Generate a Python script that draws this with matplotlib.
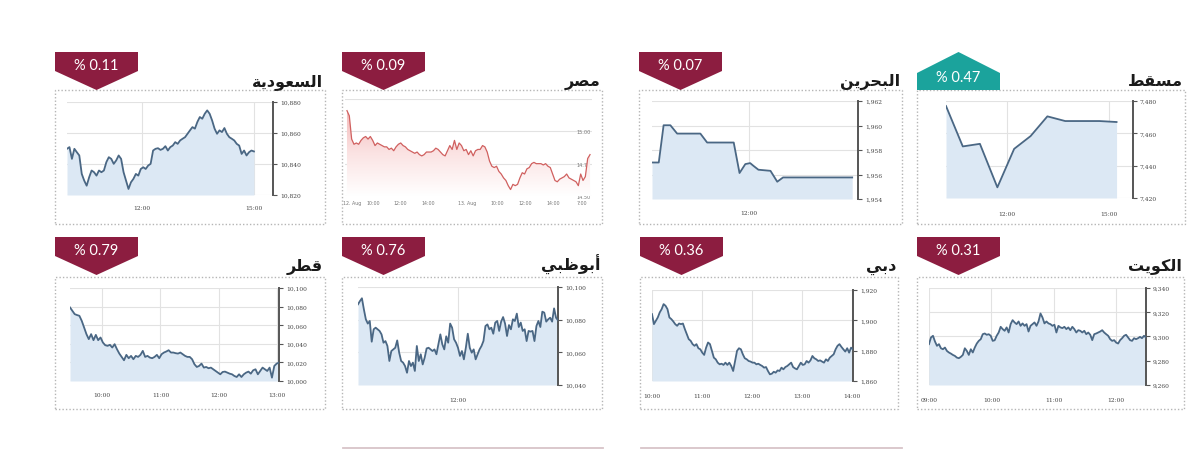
import numpy as np
import matplotlib
matplotlib.use("Agg")
import matplotlib.pyplot as plt
from matplotlib.patches import Rectangle, Polygon
from matplotlib.colors import LinearSegmentedColormap

# ---------------- data ----------------
titles = ["السعودية", "مصر", "البحرين", "مسقط", "قطر", "أبوظبي", "دبي", "الكويت"]
badges = ["% 0.11", "% 0.09", "% 0.07", "% 0.47", "% 0.79", "% 0.76", "% 0.36", "% 0.31"]
badge_up = [False, False, False, True, False, False, False, False]

saudi_values = [10849.8, 10850.9, 10843.3, 10849.8, 10847.6, 10845.5, 10833.6, 10829.3, 10826.0, 10831.4,
                10835.8, 10834.7, 10832.5, 10835.8, 10834.7, 10835.8, 10841.2, 10844.4, 10843.3, 10840.1,
                10842.3, 10845.5, 10843.3, 10834.7, 10829.3, 10823.9, 10828.2, 10830.4, 10833.6, 10832.5,
                10836.8, 10837.9, 10836.8, 10839.0, 10840.1, 10848.7, 10849.8, 10850.2, 10849.1, 10849.8,
                10851.5, 10848.7, 10850.9, 10851.9, 10854.1, 10853.0, 10855.2, 10856.3, 10857.3, 10859.5,
                10861.7, 10863.8, 10862.8, 10867.1, 10870.3, 10869.2, 10872.4, 10874.6, 10872.4, 10868.1,
                10862.8, 10859.5, 10861.7, 10860.6, 10863.2, 10859.5, 10857.3, 10856.3, 10855.2, 10853.0,
                10851.9, 10846.5, 10848.7, 10845.5, 10847.6, 10848.7, 10848.1]
saudi_time = (10.0, 15.0)
saudi_yticks = [10820, 10840, 10860, 10880]
saudi_xticks = [12, 15]
saudi_xlabels = ["12:00", "15:00"]

egypt_values = [15.16, 15.12, 14.94, 14.90, 14.91, 14.90, 14.93, 14.95, 14.96, 14.94, 14.96, 14.93, 14.89,
                14.91, 14.90, 14.89, 14.88, 14.88, 14.86, 14.87, 14.85, 14.88, 14.90, 14.91, 14.89, 14.88,
                14.86, 14.85, 14.84, 14.83, 14.84, 14.82, 14.81, 14.82, 14.84, 14.84, 14.84, 14.85, 14.87,
                14.86, 14.84, 14.82, 14.81, 14.85, 14.89, 14.86, 14.93, 14.86, 14.91, 14.89, 14.85, 14.86,
                14.82, 14.85, 14.81, 14.85, 14.86, 14.86, 14.89, 14.88, 14.84, 14.77, 14.73, 14.72, 14.73,
                14.69, 14.67, 14.64, 14.62, 14.58, 14.55, 14.59, 14.58, 14.59, 14.64, 14.68, 14.67, 14.71,
                14.72, 14.75, 14.76, 14.75, 14.75, 14.75, 14.74, 14.75, 14.73, 14.72, 14.67, 14.62, 14.61,
                14.63, 14.64, 14.65, 14.67, 14.64, 14.63, 14.62, 14.61, 14.58, 14.67, 14.62, 14.65, 14.79,
                14.82]
egypt_span = (0.008, 0.992)
egypt_yticks = [14.50, 14.75, 15.00, 15.25]
egypt_ylabels = ["14.50", "14.75", "15.00", ""]
egypt_xticks = [0.028, 0.113, 0.223, 0.336, 0.494, 0.615, 0.729, 0.842, 0.960]
egypt_xlabels = ["12. Aug", "10:00", "12:00", "14:00", "13. Aug", "10:00", "12:00", "14:00", "7:00"]

bahrain_times = [10.0, 10.14, 10.24, 10.38, 10.52, 10.66, 11.0, 11.14, 11.69, 11.81, 11.93, 12.03,
                 12.1, 12.2, 12.45, 12.59, 12.71, 14.14]
bahrain_values = [1956.98, 1956.98, 1960.02, 1960.02, 1959.34, 1959.34, 1959.34, 1958.61, 1958.61,
                  1956.12, 1956.85, 1956.93, 1956.70, 1956.39, 1956.30, 1955.41, 1955.76, 1955.76]
bahrain_yticks = [1954, 1956, 1958, 1960, 1962]
bahrain_xticks = [12]
bahrain_xlabels = ["12:00"]

muscat_times = [10.23, 10.72, 11.22, 11.73, 12.22, 12.70, 13.19, 13.71, 14.24, 14.71, 15.21]
muscat_values = [7476.9, 7451.9, 7453.5, 7426.6, 7450.4, 7458.3, 7470.5, 7467.6, 7467.6, 7467.6, 7467.0]
muscat_yticks = [7420, 7440, 7460, 7480]
muscat_xticks = [12, 15]
muscat_xlabels = ["12:00", "15:00"]

qatar_values = [10079.1, 10075.5, 10071.9, 10070.9, 10070.1, 10064.7, 10057.6, 10050.4, 10045.0, 10050.4,
                10043.9, 10049.6, 10043.9, 10046.8, 10041.4, 10038.5, 10037.8, 10038.9, 10036.0, 10039.6,
                10034.2, 10029.5, 10025.9, 10022.3, 10028.1, 10024.5, 10027.0, 10023.4, 10027.0, 10025.9,
                10028.1, 10032.4, 10025.9, 10027.0, 10025.2, 10024.5, 10025.9, 10028.1, 10024.5, 10028.8,
                10030.6, 10031.7, 10033.1, 10030.6, 10030.6, 10029.9, 10029.5, 10030.6, 10028.8, 10027.0,
                10025.9, 10025.9, 10023.4, 10018.0, 10015.1, 10016.2, 10018.7, 10014.4, 10015.1, 10013.7,
                10014.4, 10012.6, 10010.8, 10009.0, 10007.2, 10009.7, 10010.1, 10009.0, 10007.9, 10007.2,
                10005.4, 10004.3, 10007.2, 10004.3, 10007.2, 10009.0, 10010.1, 10007.9, 10011.5, 10012.6,
                10007.2, 10010.8, 10014.4, 10012.6, 10010.8, 10014.4, 10003.6, 10016.2, 10018.7, 10019.8]
qatar_time = (9.45, 13.03)
qatar_yticks = [10000, 10020, 10040, 10060, 10080, 10100]
qatar_xticks = [10, 11, 12, 13]
qatar_xlabels = ["10:00", "11:00", "12:00", "13:00"]

abudhabi_values = [10089.4, 10091.4, 10093.1, 10086.3, 10080.2, 10077.6, 10079.2, 10066.5, 10074.1, 10075.1,
                   10074.1, 10073.1, 10071.0, 10065.9, 10066.9, 10063.9, 10054.7, 10060.8, 10061.8, 10062.8,
                   10067.3, 10059.8, 10054.7, 10053.7, 10051.6, 10047.5, 10054.7, 10051.6, 10053.7, 10048.6,
                   10063.9, 10054.7, 10058.8, 10052.6, 10056.7, 10062.4, 10062.8, 10061.8, 10060.8, 10061.8,
                   10058.8, 10064.9, 10071.0, 10064.9, 10061.8, 10069.8, 10065.9, 10077.6, 10075.1, 10068.0,
                   10065.9, 10062.8, 10057.8, 10060.8, 10055.7, 10062.8, 10071.4, 10062.8, 10059.8, 10061.8,
                   10055.7, 10058.8, 10061.8, 10063.9, 10067.0, 10076.1, 10077.1, 10074.1, 10075.1, 10071.4,
                   10078.2, 10079.2, 10073.1, 10078.8, 10081.6, 10077.6, 10070.0, 10076.7, 10074.1, 10080.2,
                   10079.2, 10083.7, 10075.5, 10078.2, 10073.1, 10074.1, 10066.9, 10073.1, 10072.7, 10073.1,
                   10066.9, 10076.1, 10079.2, 10075.5, 10084.9, 10084.3, 10078.8, 10080.2, 10081.2, 10078.8,
                   10086.9, 10081.2, 10079.6]
abudhabi_time = (10.0, 14.02)
abudhabi_yticks = [10040, 10060, 10080, 10100]
abudhabi_xticks = [12]
abudhabi_xlabels = ["12:00"]

dubai_values = [1904.1, 1897.5, 1899.7, 1901.9, 1905.2, 1907.4, 1910.7, 1909.6, 1907.4, 1901.9, 1900.8, 1899.3,
                1897.5, 1896.4, 1897.9, 1897.5, 1897.9, 1894.2, 1890.9, 1887.6, 1886.5, 1884.3, 1883.2, 1884.3,
                1881.6, 1880.9, 1878.7, 1877.2, 1882.0, 1885.4, 1884.3, 1879.9, 1875.4, 1874.3, 1872.1, 1871.0,
                1871.4, 1870.6, 1872.1, 1870.6, 1872.1, 1869.9, 1866.6, 1873.2, 1879.9, 1881.6, 1880.9, 1877.6,
                1875.0, 1874.3, 1873.2, 1872.8, 1872.1, 1872.1, 1871.0, 1871.4, 1870.6, 1869.9, 1868.8, 1869.2,
                1866.6, 1864.4, 1864.8, 1866.1, 1865.5, 1867.0, 1866.6, 1868.8, 1867.7, 1869.2, 1869.9, 1871.0,
                1872.1, 1869.2, 1868.3, 1867.7, 1869.9, 1872.1, 1870.6, 1871.0, 1873.2, 1872.1, 1873.6, 1876.5,
                1875.0, 1874.3, 1873.2, 1873.6, 1872.8, 1872.1, 1874.3, 1873.2, 1875.4, 1876.5, 1877.6, 1880.9,
                1883.2, 1884.3, 1882.5, 1880.9, 1879.4, 1881.6, 1878.7, 1882.0, 1880.9]
dubai_time = (10.0, 14.02)
dubai_yticks = [1860, 1880, 1900, 1920]
dubai_xticks = [10, 11, 12, 13, 14]
dubai_xlabels = ["10:00", "11:00", "12:00", "13:00", "14:00"]

kuwait_values = [9293.7, 9299.2, 9300.6, 9295.9, 9292.3, 9293.7, 9290.3, 9289.5, 9290.9, 9288.1, 9286.8, 9285.9,
                 9284.8, 9284.0, 9282.6, 9282.1, 9283.2, 9284.8, 9290.3, 9288.1, 9284.8, 9289.5, 9286.8, 9290.9,
                 9294.2, 9296.4, 9297.8, 9301.9, 9302.5, 9301.4, 9301.9, 9300.6, 9296.4, 9296.9, 9300.6, 9303.3,
                 9308.0, 9306.1, 9304.7, 9307.5, 9303.3, 9310.2, 9313.5, 9311.6, 9310.2, 9312.4, 9308.8, 9310.8,
                 9308.8, 9310.2, 9304.1, 9308.8, 9310.2, 9311.6, 9308.8, 9312.4, 9319.0, 9315.7, 9310.8, 9312.4,
                 9310.8, 9310.2, 9308.8, 9309.7, 9303.3, 9308.8, 9307.5, 9306.9, 9308.0, 9306.1, 9307.5, 9305.2,
                 9308.0, 9306.1, 9303.3, 9305.2, 9304.7, 9303.3, 9304.7, 9301.9, 9303.3, 9301.4, 9297.0, 9301.9,
                 9302.5, 9303.3, 9304.1, 9305.2, 9303.3, 9301.9, 9300.6, 9297.8, 9296.4, 9297.0, 9295.0, 9294.2,
                 9297.0, 9298.6, 9300.6, 9301.4, 9299.2, 9297.0, 9296.4, 9298.6, 9297.8, 9298.6, 9299.7, 9298.6,
                 9300.6, 9299.2]
kuwait_time = (9.0, 12.48)
kuwait_yticks = [9260, 9280, 9300, 9320, 9340]
kuwait_xticks = [9, 10, 11, 12]
kuwait_xlabels = ["09:00", "10:00", "11:00", "12:00"]

# ---------------- helpers ----------------
W, H = 1200, 477
MAROON = "#8c1d40"
TEAL = "#1ba39c"
LINE = "#4a6784"
FILL = "#dce8f4"
GRID = "#e2e2e2"
SPINE = "#555555"

FORMS = {
    "ا": ("\uFE8D", "\uFE8E", None, None), "أ": ("\uFE83", "\uFE84", None, None),
    "ب": ("\uFE8F", "\uFE90", "\uFE91", "\uFE92"), "ة": ("\uFE93", "\uFE94", None, None),
    "ت": ("\uFE95", "\uFE96", "\uFE97", "\uFE98"), "ح": ("\uFEA1", "\uFEA2", "\uFEA3", "\uFEA4"),
    "د": ("\uFEA9", "\uFEAA", None, None), "ر": ("\uFEAD", "\uFEAE", None, None),
    "س": ("\uFEB1", "\uFEB2", "\uFEB3", "\uFEB4"), "ص": ("\uFEB9", "\uFEBA", "\uFEBB", "\uFEBC"),
    "ط": ("\uFEC1", "\uFEC2", "\uFEC3", "\uFEC4"), "ظ": ("\uFEC5", "\uFEC6", "\uFEC7", "\uFEC8"),
    "ع": ("\uFEC9", "\uFECA", "\uFECB", "\uFECC"), "ق": ("\uFED5", "\uFED6", "\uFED7", "\uFED8"),
    "ك": ("\uFED9", "\uFEDA", "\uFEDB", "\uFEDC"), "ل": ("\uFEDD", "\uFEDE", "\uFEDF", "\uFEE0"),
    "م": ("\uFEE1", "\uFEE2", "\uFEE3", "\uFEE4"), "ن": ("\uFEE5", "\uFEE6", "\uFEE7", "\uFEE8"),
    "و": ("\uFEED", "\uFEEE", None, None), "ي": ("\uFEF1", "\uFEF2", "\uFEF3", "\uFEF4"),
}


def shape_arabic(s):
    out = []
    for i, c in enumerate(s):
        f = FORMS[c]
        jp = i > 0 and FORMS[s[i - 1]][2] is not None
        jn = i + 1 < len(s) and f[2] is not None
        if jp and jn:
            g = f[3]
        elif jp:
            g = f[1]
        elif jn:
            g = f[2]
        else:
            g = f[0]
        out.append(g)
    return "".join(reversed(out))


fig = plt.figure(figsize=(12, 4.77), dpi=100)
fig.patch.set_facecolor("white")


def fx(x):
    return x / W


def fy(y):
    return 1 - y / H


def add_ax(l, r, t, b):
    return fig.add_axes([fx(l), fy(b), (r - l) / W, (b - t) / H])


def draw_frame(box, title, badge, up, row_top):
    l, r, t, b = box
    fig.patches.append(Rectangle((fx(l), fy(b)), (r - l) / W, (b - t) / H, transform=fig.transFigure,
                                 fill=False, edgecolor="#b5b5b5", lw=1.0, linestyle=(0, (1, 1.5))))
    bl, br = l, l + 83
    mid = (bl + br) / 2
    if up:
        pts = [(bl, row_top + 38), (bl, row_top + 21), (mid, row_top), (br, row_top + 21), (br, row_top + 38)]
        col = TEAL
        ty = row_top + 25
    else:
        pts = [(bl, row_top), (br, row_top), (br, row_top + 19), (mid, row_top + 38), (bl, row_top + 19)]
        col = MAROON
        ty = row_top + 13
    fig.patches.append(Polygon([(fx(x), fy(y)) for x, y in pts], closed=True, transform=fig.transFigure,
                               facecolor=col, edgecolor="none"))
    fig.text(fx(mid), fy(ty), badge, color="white", fontsize=10.5, family="Lato",
             ha="center", va="center")
    fig.text(fx(r - 2), fy(row_top + 33), shape_arabic(title), fontsize=11.5, fontweight="bold",
             family="DejaVu Sans", color="#1a1a1a", ha="right", va="baseline")


def style_blue(ax, yticks, xticks, xlabels, xlim, pad=7):
    ax.set_facecolor("none")
    for s in ["left", "top", "bottom"]:
        ax.spines[s].set_visible(False)
    ax.spines["right"].set_color(SPINE)
    ax.spines["right"].set_linewidth(1.4)
    ax.yaxis.tick_right()
    ax.set_yticks(yticks)
    ax.set_yticklabels([f"{v:,}" for v in yticks])
    ax.set_ylim(yticks[0], yticks[-1])
    ax.set_xlim(*xlim)
    ax.set_xticks(xticks)
    ax.set_xticklabels(xlabels)
    ax.tick_params(axis="y", length=3, width=0.8, color=SPINE, pad=2, labelsize=4.3, labelcolor="#444")
    ax.tick_params(axis="x", length=0, pad=pad, labelsize=4.3, labelcolor="#444")
    for lab in ax.get_xticklabels() + ax.get_yticklabels():
        lab.set_family("DejaVu Serif")
    ax.grid(True, color=GRID, lw=0.8)
    ax.set_axisbelow(True)


def blue_plot(ax, x, y, ymin):
    ax.fill_between(x, y, ymin, color=FILL, lw=0, zorder=2)
    ax.plot(x, y, color=LINE, lw=1.3, zorder=3)


# ---------- Saudi ----------
draw_frame((55, 325, 91, 225), titles[0], badges[0], badge_up[0], 53)
ax = add_ax(67, 273, 103, 196)
x = np.linspace(*saudi_time, len(saudi_values))
style_blue(ax, saudi_yticks, saudi_xticks, saudi_xlabels, (saudi_time[0], 15.51))
blue_plot(ax, x, saudi_values, saudi_yticks[0])

# ---------- Egypt ----------
draw_frame((342, 602, 91, 225), titles[1], badges[1], badge_up[1], 53)
ax = add_ax(345, 592, 100, 197)
ax.set_facecolor("none")
for s in ax.spines.values():
    s.set_visible(False)
x = np.linspace(*egypt_span, len(egypt_values))
ax.set_xlim(0, 1)
ax.set_ylim(egypt_yticks[0], egypt_yticks[-1])
poly = ax.fill_between(x, egypt_values, egypt_yticks[0], color="none", lw=0)
grad = np.linspace(0, 1, 256).reshape(-1, 1)
cm = LinearSegmentedColormap.from_list("pk", ["#ffffff", "#fbe3e3", "#f4b9b9"])
im = ax.imshow(grad, extent=[0, 1, egypt_yticks[0], max(egypt_values)], origin="lower",
               aspect="auto", cmap=cm, zorder=2)
im.set_clip_path(poly.get_paths()[0], transform=ax.transData)
ax.plot(x, egypt_values, color="#d0605f", lw=0.9, zorder=3)
ax.set_yticks(egypt_yticks)
ax.set_yticklabels(egypt_ylabels)
ax.yaxis.tick_right()
ax.tick_params(axis="y", length=0, pad=-11, labelsize=3.6, labelcolor="#777")
ax.set_xticks(egypt_xticks)
ax.set_xticklabels(egypt_xlabels)
ax.tick_params(axis="x", length=0, pad=3, labelsize=3.4, labelcolor="#777")
ax.grid(True, axis="y", color=GRID, lw=0.8)
ax.set_axisbelow(True)

# ---------- Bahrain ----------
draw_frame((639, 902, 91, 225), titles[2], badges[2], badge_up[2], 53)
ax = add_ax(652, 858, 102, 200)
style_blue(ax, bahrain_yticks, bahrain_xticks, bahrain_xlabels, (10.0, 14.26), pad=8)
blue_plot(ax, bahrain_times, bahrain_values, bahrain_yticks[0])

# ---------- Muscat ----------
draw_frame((917, 1185, 91, 225), titles[3], badges[3], badge_up[3], 53)
ax = add_ax(946, 1133, 102, 199)
style_blue(ax, muscat_yticks, muscat_xticks, muscat_xlabels, (10.23, 15.69), pad=9)
blue_plot(ax, muscat_times, muscat_values, muscat_yticks[0])

# ---------- Qatar ----------
draw_frame((55, 325, 278, 410), titles[4], badges[4], badge_up[4], 238)
ax = add_ax(70, 279, 289, 382)
x = np.linspace(*qatar_time, len(qatar_values))
style_blue(ax, qatar_yticks, qatar_xticks, qatar_xlabels, qatar_time, pad=8)
blue_plot(ax, x, qatar_values, qatar_yticks[0])

# ---------- Abu Dhabi ----------
draw_frame((342, 602, 278, 410), titles[5], badges[5], badge_up[5], 238)
ax = add_ax(358, 558, 288, 386)
x = np.linspace(*abudhabi_time, len(abudhabi_values))
style_blue(ax, abudhabi_yticks, abudhabi_xticks, abudhabi_xlabels, abudhabi_time, pad=9)
blue_plot(ax, x, abudhabi_values, abudhabi_yticks[0])

# ---------- Dubai ----------
draw_frame((640, 898, 278, 410), titles[6], badges[6], badge_up[6], 238)
ax = add_ax(652, 853, 291, 382)
x = np.linspace(*dubai_time, len(dubai_values))
style_blue(ax, dubai_yticks, dubai_xticks, dubai_xlabels, dubai_time, pad=9)
blue_plot(ax, x, dubai_values, dubai_yticks[0])

# ---------- Kuwait ----------
draw_frame((917, 1184, 278, 410), titles[7], badges[7], badge_up[7], 238)
ax = add_ax(929, 1146, 289, 386)
x = np.linspace(*kuwait_time, len(kuwait_values))
style_blue(ax, kuwait_yticks, kuwait_xticks, kuwait_xlabels, kuwait_time, pad=9)
blue_plot(ax, x, kuwait_values, kuwait_yticks[0])

# ---------- bottom separators ----------
for l, r in [(343, 603), (641, 902)]:
    fig.add_artist(plt.Line2D([fx(l), fx(r)], [fy(449), fy(449)], transform=fig.transFigure,
                              color="#d8c4c8", lw=1.3))

fig.savefig("out.png", dpi=100, facecolor="white")
